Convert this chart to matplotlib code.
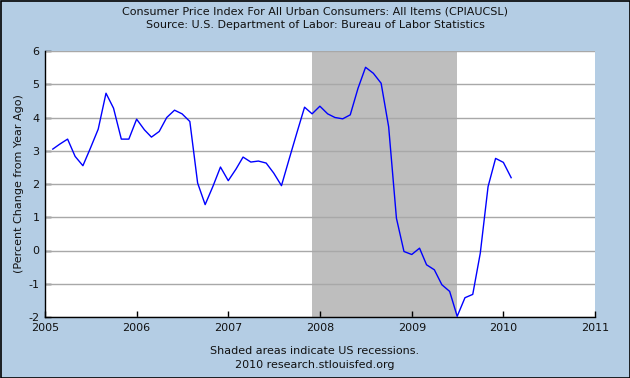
import matplotlib
matplotlib.use("Agg")
import matplotlib.pyplot as plt
import pandas as pd
from matplotlib.patches import Rectangle

# Data: CPI percent change from year ago, monthly Feb 2005 .. Feb 2010
dates = pd.date_range("2005-02-01", "2010-02-01", freq="MS")
values = [
    3.05, 3.20, 3.35, 2.83, 2.55, 3.08, 3.65, 4.73, 4.28, 3.35, 3.35,
    3.95, 3.63, 3.41, 3.58, 4.00, 4.22, 4.11, 3.88, 2.03, 1.38, 1.93, 2.51,
    2.10, 2.45, 2.81, 2.66, 2.69, 2.63, 2.33, 1.95, 2.76, 3.53, 4.31, 4.11,
    4.34, 4.11, 4.00, 3.96, 4.08, 4.88, 5.51, 5.33, 5.03, 3.72, 0.97, -0.03,
    -0.12, 0.07, -0.43, -0.58, -1.03, -1.23, -1.98, -1.42, -1.32, -0.08, 1.92, 2.77,
    2.65, 2.19,
]
recession_start = "2007-12-01"
recession_end = "2009-07-01"
year_ticks = [2005, 2006, 2007, 2008, 2009, 2010, 2011]
y_ticks = [-2, -1, 0, 1, 2, 3, 4, 5, 6]

title = "Consumer Price Index For All Urban Consumers: All Items (CPIAUCSL)"
subtitle = "Source: U.S. Department of Labor: Bureau of Labor Statistics"
ylabel = "(Percent Change from Year Ago)"
note1 = "Shaded areas indicate US recessions."
note2 = "2010 research.stlouisfed.org"

bg = "#B4CDE4"
fig = plt.figure(figsize=(6.3, 3.78), dpi=100, facecolor=bg)
ax = fig.add_axes([45/630, 1-317/378, 550/630, 266/378])
ax.set_facecolor("white")

ax.axvspan(pd.Timestamp(recession_start), pd.Timestamp(recession_end),
           color="#BEBEBE", lw=0, zorder=1)
for v in y_ticks:
    ax.axhline(v, color="#A8A8A8", lw=1, zorder=2)
ax.plot(dates, values, color="#0000FF", lw=1, zorder=3)

ax.set_xlim(pd.Timestamp("2005-01-01"), pd.Timestamp("2011-01-01"))
ax.set_ylim(-2, 6)
ax.set_yticks(y_ticks)
ax.set_yticklabels([str(v) for v in y_ticks])
ax.set_xticks([pd.Timestamp(f"{y}-01-01") for y in year_ticks])
ax.set_xticklabels([str(y) for y in year_ticks])

for s in ["top", "right"]:
    ax.spines[s].set_visible(False)
for s in ["left", "bottom"]:
    ax.spines[s].set_color("black")
    ax.spines[s].set_linewidth(1)
ax.tick_params(direction="in", length=4, width=1, colors="black",
               labelsize=8, labelcolor="#111111", pad=4)
ax.tick_params(axis="x", pad=4)

ax.set_ylabel(ylabel, fontsize=8, color="#111111")
ax.yaxis.set_label_coords(-21/550, 0.5)

fig.text(0.5, 1-12/378, title, ha="center", va="center", fontsize=8, color="#111111")
fig.text(0.5, 1-25/378, subtitle, ha="center", va="center", fontsize=8, color="#111111")
fig.text(0.5, 1-351/378, note1, ha="center", va="center", fontsize=8, color="#111111")
fig.text(0.5, 1-365/378, note2, ha="center", va="center", fontsize=8, color="#111111")

fig.patches.append(Rectangle((0.5/630, 0.5/378), 1-1/630, 1-1/378, transform=fig.transFigure,
                             fill=False, edgecolor="black", lw=1.2))

fig.savefig("out.png", dpi=100, facecolor=bg)
